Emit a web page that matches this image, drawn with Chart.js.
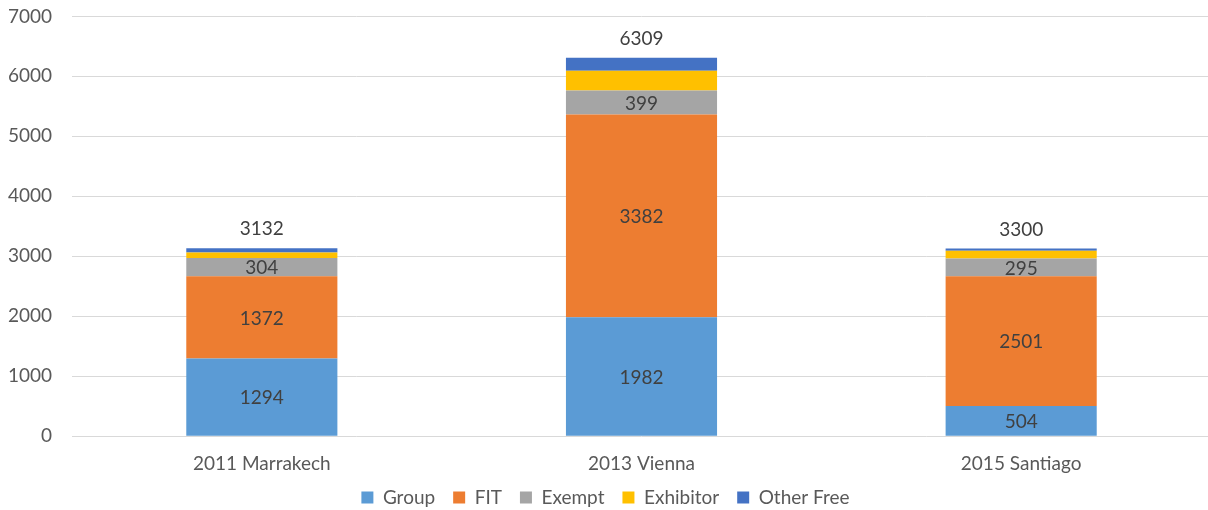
<!DOCTYPE html>
<html>
<head>
<meta charset="utf-8">
<script src="https://cdn.jsdelivr.net/npm/chart.js@4"></script>
<style>
  html, body { margin: 0; padding: 0; background: #ffffff; overflow: hidden; }
  #wrap { width: 1212px; height: 553px; position: relative; top: -15px; }
</style>
</head>
<body>
<div id="wrap"><canvas id="c"></canvas></div>
<script>
// Categories
const categories = ['2011 Marrakech', '2013 Vienna', '2015 Santiago'];
// Bar segment values
const group = [1294, 1982, 504];
const fit = [1372, 3382, 2162];
const exempt = [304, 399, 295];
const exhibitor = [92, 330, 130];
const otherFree = [70, 216, 40];
// Data label texts as printed on the chart
const groupText = ['1294', '1982', '504'];
const fitText = ['1372', '3382', '2501'];
const exemptText = ['304', '399', '295'];
const totalText = ['3132', '6309', '3300'];
// Y tick values
const yTicks = [0, 1000, 2000, 3000, 4000, 5000, 6000, 7000];

const FONT = 'Lato, "Open Sans", sans-serif';
const FS = 19;
const segmentTexts = [groupText, fitText, exemptText];

const labelPlugin = {
  id: 'barLabels',
  afterDatasetsDraw(chart) {
    const ctx = chart.ctx;
    ctx.save();
    ctx.font = FS + 'px ' + FONT;
    ctx.fillStyle = '#404040';
    ctx.textAlign = 'center';
    ctx.textBaseline = 'middle';
    segmentTexts.forEach((texts, di) => {
      const meta = chart.getDatasetMeta(di);
      meta.data.forEach((bar, i) => {
        const y = (bar.y + bar.base) / 2;
        ctx.fillText(texts[i], bar.x, y + 1);
      });
    });
    const topMeta = chart.getDatasetMeta(chart.data.datasets.length - 1);
    topMeta.data.forEach((bar, i) => {
      ctx.fillText(totalText[i], bar.x, bar.y - 19);
    });
    ctx.restore();
  }
};

// Pull the legend a little closer to the category labels
const legendShift = {
  id: 'legendShift',
  afterLayout(chart) {
    const l = chart.legend;
    if (l) { l.top -= 21; l.bottom -= 21; }
  }
};

new Chart(document.getElementById('c'), {
  type: 'bar',
  data: {
    labels: categories,
    datasets: [
      { label: 'Group', data: group, backgroundColor: '#5B9BD5' },
      { label: 'FIT', data: fit, backgroundColor: '#ED7D31' },
      { label: 'Exempt', data: exempt, backgroundColor: '#A5A5A5' },
      { label: 'Exhibitor', data: exhibitor, backgroundColor: '#FFC000' },
      { label: 'Other Free', data: otherFree, backgroundColor: '#4472C4' }
    ]
  },
  options: {
    responsive: true,
    maintainAspectRatio: false,
    animation: false,
    datasets: { bar: { categoryPercentage: 1, barPercentage: 0.398, borderWidth: 0 } },
    layout: { padding: { top: 1, left: 0, right: 1, bottom: 0 } },
    plugins: {
      legend: {
        position: 'bottom',
        labels: {
          font: { family: FONT, size: FS },
          color: '#595959',
          boxWidth: 12,
          boxHeight: 12,
          padding: 18
        }
      },
      tooltip: { enabled: false }
    },
    scales: {
      x: {
        stacked: true,
        grid: { display: false, drawTicks: false },
        border: { display: false },
        ticks: { font: { family: FONT, size: FS }, color: '#595959', padding: 16 }
      },
      y: {
        stacked: true,
        min: 0,
        max: 7000,
        afterBuildTicks(scale) { scale.ticks = yTicks.map(v => ({ value: v })); },
        afterFit(scale) { scale.width = 72; },
        grid: { color: '#D9D9D9', lineWidth: 1, drawTicks: false },
        border: { display: false },
        ticks: {
          font: { family: FONT, size: FS },
          color: '#595959',
          padding: 20,
          callback: (v) => String(v)
        }
      }
    }
  },
  plugins: [labelPlugin, legendShift]
});
</script>
</body>
</html>
